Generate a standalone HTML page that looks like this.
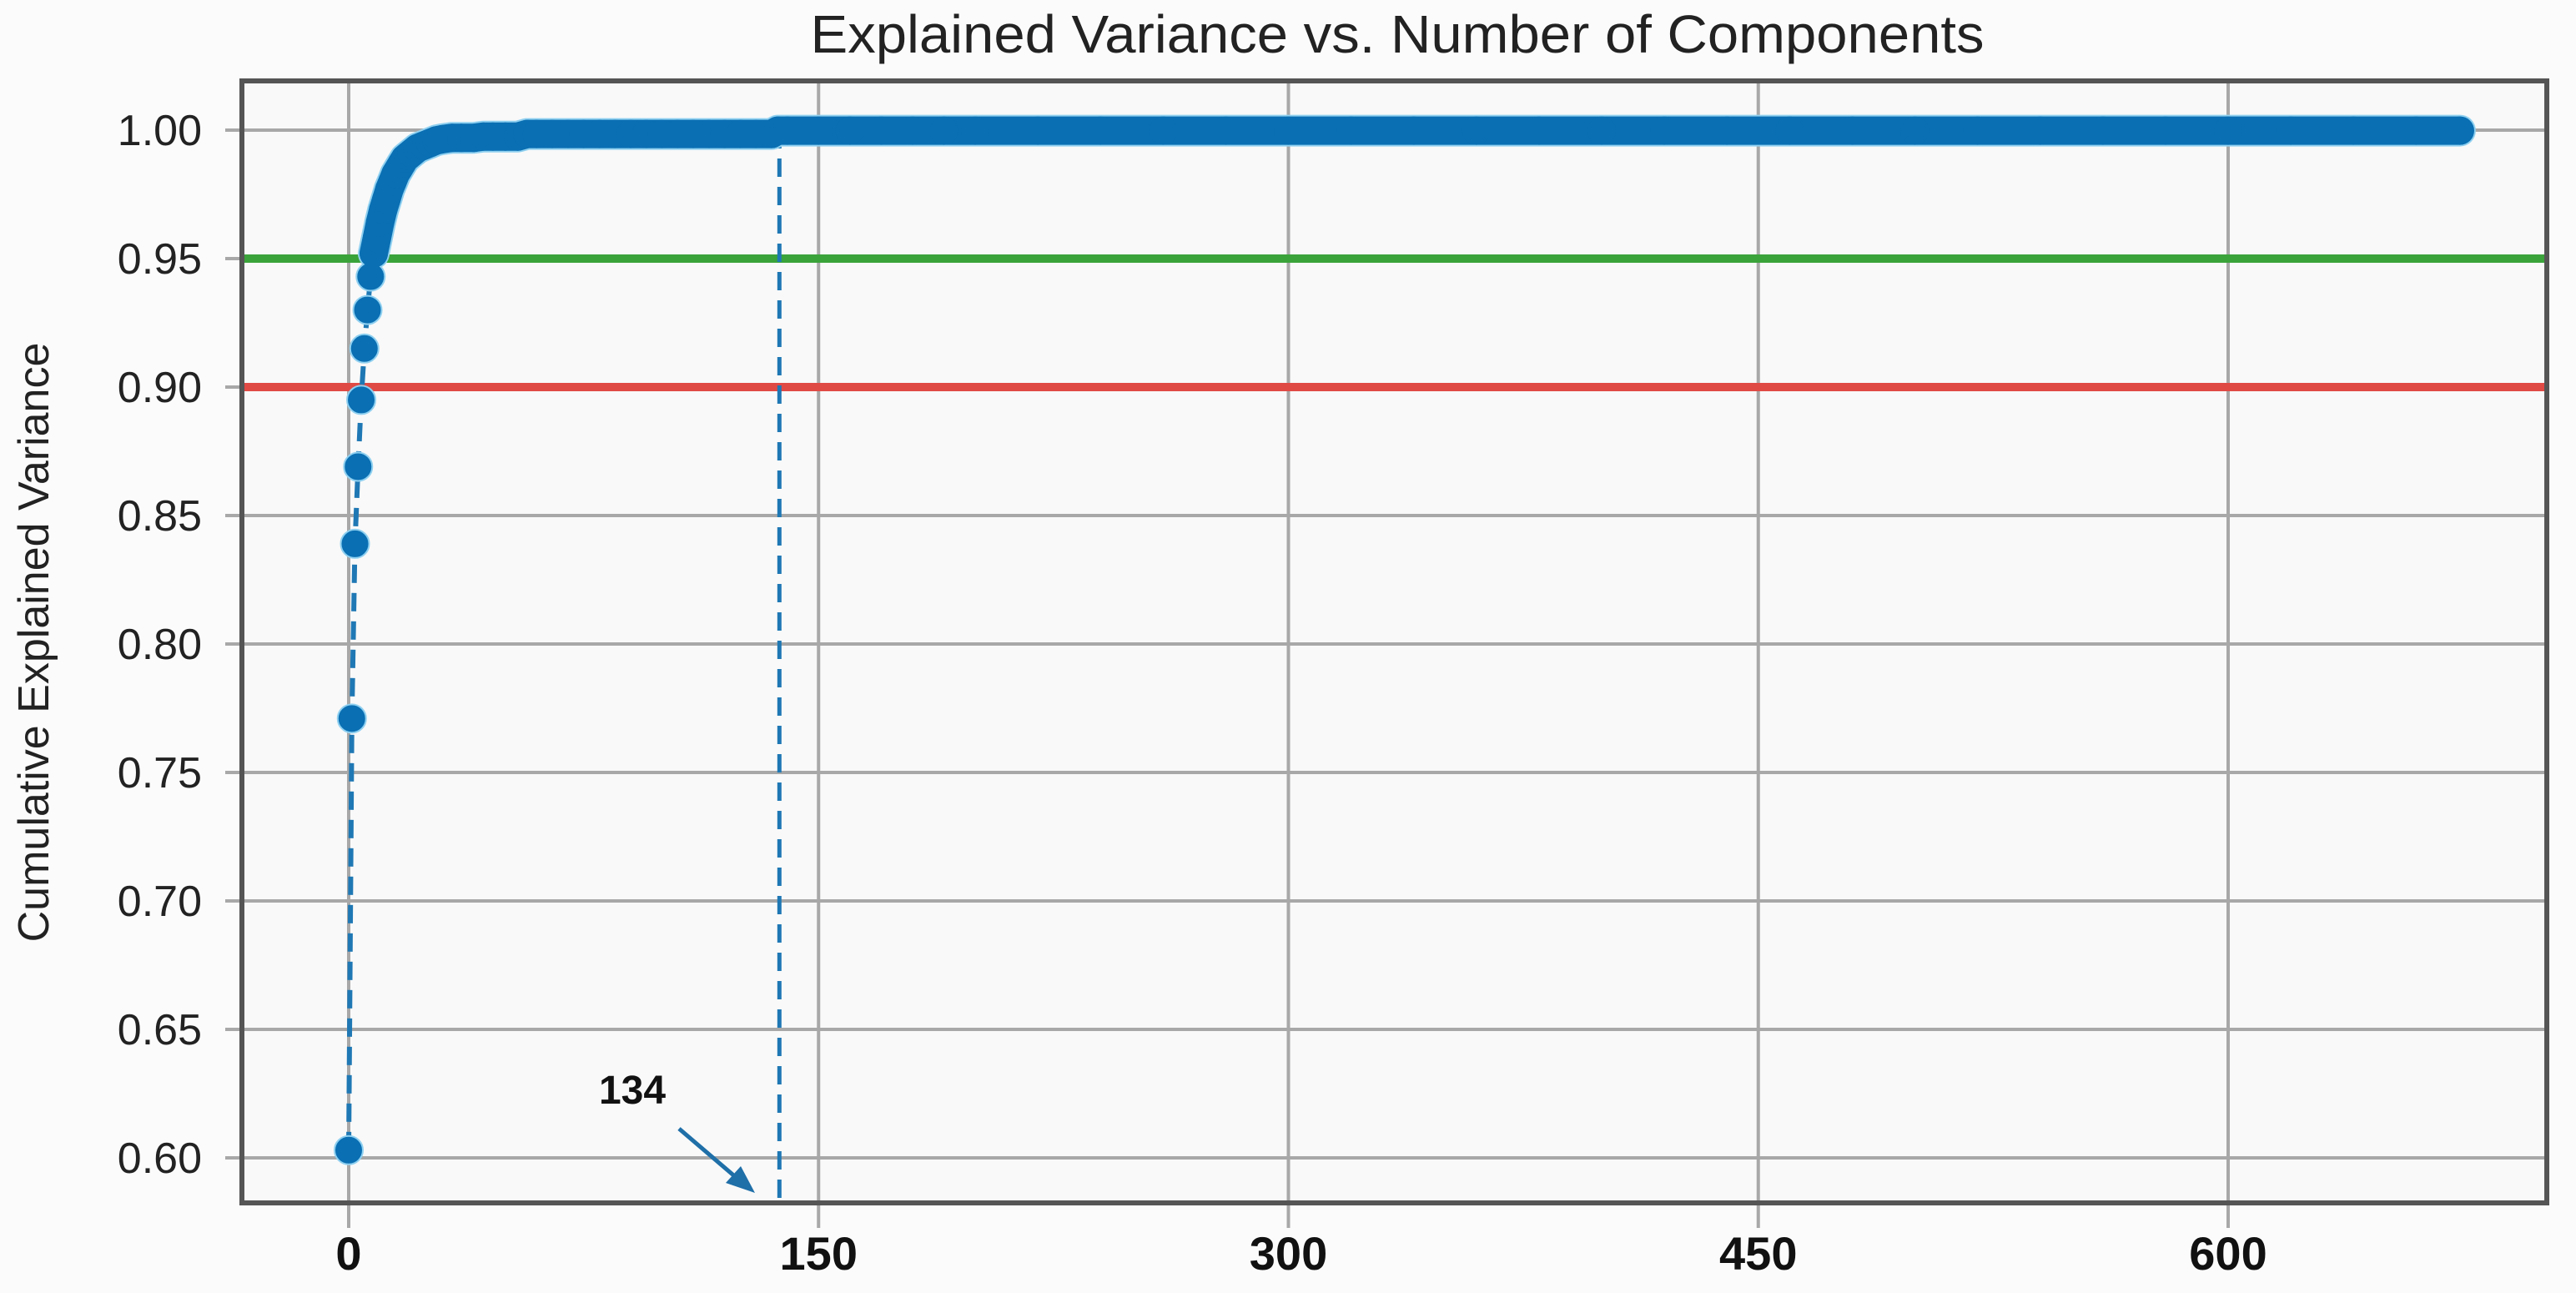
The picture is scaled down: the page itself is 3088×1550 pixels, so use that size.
<!DOCTYPE html>
<html><head><meta charset="utf-8"><style>
html,body{margin:0;padding:0;background:#fbfbfb;}
svg{display:block;}
text{font-family:"Liberation Sans Narrow","Liberation Sans",sans-serif;}
</style></head><body>
<svg id="chart" width="3088" height="1550" viewBox="0 0 3088 1550" xmlns="http://www.w3.org/2000/svg">
<rect x="0" y="0" width="3088" height="1550" fill="#fbfbfb"/>
<text x="1675" y="63" text-anchor="middle" font-size="64" fill="#222" textLength="1407" lengthAdjust="spacingAndGlyphs">Explained Variance vs. Number of Components</text>
<rect x="290" y="97" width="2763" height="1345" fill="#f9f9f9"/>
<g id="grid"></g>
<g id="refs"></g>
<g id="series"></g>
<rect x="290" y="97" width="2763" height="1345" fill="none" stroke="#555" stroke-width="6"/>
<g id="ticks"></g>
<text transform="translate(58,770) rotate(-90)" text-anchor="middle" font-size="52" fill="#222" font-family="Liberation Sans, sans-serif">Cumulative Explained Variance</text>
<text id="annot" x="758" y="1323" text-anchor="middle" font-size="48" font-weight="bold" fill="#111">134</text>
<line x1="814" y1="1353" x2="890" y2="1418" stroke="#1f6fa8" stroke-width="5"/>
<polygon points="905,1430 870,1418 888,1398" fill="#1f6fa8"/>
</svg>
<script>
const xTicks=[0,150,300,450,600];
const yTicks=[0.60,0.65,0.70,0.75,0.80,0.85,0.90,0.95,1.00];
const yTickLabels=["0.60","0.65","0.70","0.75","0.80","0.85","0.90","0.95","1.00"];
const components=[0,1,2,3,4,5,6,7,8,9,10,11,12,13,14,15,16,17,18,19,20,22,24,26,28,30,33,36,40,43,46,50,54,57,60,65,70,75,80,85,90,95,100,105,110,115,120,125,130,135,137,140,150,160,170,180,190,200,220,240,260,280,300,320,340,360,380,400,420,440,460,480,500,520,540,560,580,600,620,640,660,674];
const variance=[0.603,0.771,0.839,0.869,0.895,0.915,0.930,0.943,0.952,0.958,0.964,0.969,0.973,0.977,0.980,0.983,0.985,0.987,0.989,0.990,0.991,0.993,0.994,0.995,0.996,0.9965,0.997,0.997,0.997,0.9975,0.9975,0.9975,0.9975,0.9985,0.9985,0.9985,0.9985,0.9985,0.9985,0.9985,0.9985,0.9985,0.9985,0.9985,0.9985,0.9985,0.9985,0.9985,0.9985,0.9985,0.9998,0.9998,0.9998,0.9998,0.9998,0.9998,0.9998,0.9998,0.9998,0.9998,0.9998,0.9998,0.9998,0.9998,0.9998,0.9998,0.9998,0.9998,0.9998,0.9998,0.9998,0.9998,0.9998,0.9998,0.9998,0.9998,0.9998,0.9998,0.9998,0.9998,0.9998,0.9998];
const thresholds=[0.95,0.90];
const thresholdColors=["#3aa33a","#e04a45"];
const selectedComponent=[137.5];
const denseFrom=8;

const NS="http://www.w3.org/2000/svg";
const X0=290,X1=3053,Y0=97,Y1=1442;
function xs(v){return 418+v*3.755;}
function ys(v){return 156+(1-v)*3080;}
function el(tag,attrs,parent){const e=document.createElementNS(NS,tag);for(const k in attrs)e.setAttribute(k,attrs[k]);parent.appendChild(e);return e;}
const grid=document.getElementById('grid'),refs=document.getElementById('refs'),series=document.getElementById('series'),ticks=document.getElementById('ticks');

xTicks.forEach(t=>{
  const l=el('line',{x1:xs(t),x2:xs(t),y1:Y0,y2:Y1+30,stroke:'#a8a8a8','stroke-width':4},grid);
  
  
  const tx=el('text',{x:xs(t),y:1522,'text-anchor':'middle','font-size':56,'font-weight':'bold',fill:'#111'},ticks);
  tx.textContent=String(t);
  
  
});
yTicks.forEach((t,i)=>{
  const l=el('line',{x1:X0-20,x2:X1,y1:ys(t),y2:ys(t),stroke:'#a8a8a8','stroke-width':4},grid);
  
  
  const tx=el('text',{x:242,y:ys(t)+18,'text-anchor':'end','font-size':52,fill:'#222'},ticks);
  tx.textContent=yTickLabels[i];
  
  
});
thresholds.forEach((t,i)=>{
  const l=el('line',{x1:X0,x2:X1,y1:ys(t),y2:ys(t),stroke:thresholdColors[i],'stroke-width':10},refs);
  
  
});
selectedComponent.forEach(c=>{
  const l=el('line',{x1:xs(c),x2:xs(c),y1:ys(1),y2:Y1,stroke:'#1f78b4','stroke-width':5,'stroke-dasharray':'22,12'},refs);
  
  
});
let d='';
components.forEach((c,i)=>{d+=(i?'L':'M')+xs(c).toFixed(1)+','+ys(variance[i]).toFixed(1);});
const ln=el('path',{d:d,fill:'none',stroke:'#1f78b4','stroke-width':6,'stroke-dasharray':'22,12'},series);


let bd='',first=true;
components.forEach((c,i)=>{if(c>=denseFrom){bd+=(first?'M':'L')+xs(c).toFixed(1)+','+ys(variance[i]).toFixed(1);first=false;}});
const halo=el('path',{d:bd,fill:'none',stroke:'#8fd0f0','stroke-width':38,'stroke-linejoin':'round','stroke-linecap':'round'},series);


const band=el('path',{d:bd,fill:'none',stroke:'#0a6fb3','stroke-width':34,'stroke-linejoin':'round','stroke-linecap':'round'},series);


components.forEach((c,i)=>{
  const m=el('circle',{cx:xs(c),cy:ys(variance[i]),r:17,fill:'#0a6fb3',stroke:c>=denseFrom?'none':'#8fd0f0','stroke-width':2},series);
  
  
});
</script>
</body></html>
